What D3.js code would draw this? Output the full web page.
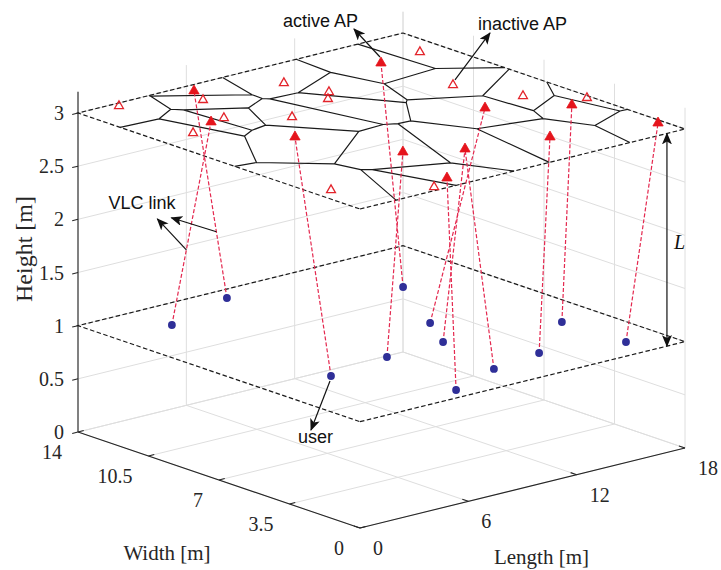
<!DOCTYPE html>
<html>
<head>
<meta charset="utf-8">
<script src="https://cdn.jsdelivr.net/npm/d3@7"></script>
<style>
  body { margin: 0; background: #fff; }
  svg { display: block; }
</style>
</head>
<body>
<svg id="chart" width="721" height="570"></svg>
<script>
// ---- axis ticks ----
const lengthTicks = [0, 6, 12, 18];
const widthTicks = [0, 3.5, 7, 10.5, 14];
const heightTicks = [0, 0.5, 1, 1.5, 2, 2.5, 3];
const heightMax = 3.2;

// ---- planes ----
const apHeight = 3;    // ceiling with access points
const userHeight = 1;  // receiver plane

// ---- active access points (Length, Width) ----
const activeL = [5.81, 3.43, 4.71, 14.46, 6.76, 9.04, 5.72, 16.63, 13.55, 12.91, 17.70];
const activeW = [13.45, 10.47, 7.45, 11.92, 3.93, 2.89, 0.81, 4.39, 5.94, 2.14, 1.07];

// ---- inactive access points (Length, Width) ----
const inactiveL = [1.98, 5.25, 4.22, 1.81, 9.45, 10.05, 9.36, 6.50, 0.86, 16.75, 14.70, 15.91, 17.78, 4.46];
const inactiveW = [13.74, 12.50, 10.54, 9.91, 12.25, 10.55, 9.98, 9.20, 2.21, 12.04, 8.56, 6.17, 4.67, 0.32];

// ---- users (Length, Width) and index of the serving active AP ----
const userL = [3.08, 7.40, 3.38, 14.10, 6.97, 11.57, 10.19, 6.08, 9.28, 12.24, 15.90, 16.07];
const userW = [12.10, 13.24, 4.47, 10.50, 4.91, 6.89, 5.01, 0.68, 1.67, 2.08, 4.23, 1.20];
const userAP = [1, 0, 2, 3, 4, 8, 5, 6, 5, 9, 7, 10];

// ---- oblique 3-D projection built from linear scales ----
const origin = [360, 528];
const lenX = d3.scaleLinear().domain([0, 18]).range([0, 325]);
const lenY = d3.scaleLinear().domain([0, 18]).range([0, -80]);
const widX = d3.scaleLinear().domain([0, 14]).range([0, -282]);
const widY = d3.scaleLinear().domain([0, 14]).range([0, -96]);
const hgtY = d3.scaleLinear().domain([0, 3]).range([0, -319]);
function proj(L, W, z) {
  return [origin[0] + lenX(L) + widX(W), origin[1] + lenY(L) + widY(W) + hgtY(z)];
}
const seg = (a, b) => d3.line()([proj(...a), proj(...b)]);

const svg = d3.select("#chart");
const serif = "'Liberation Serif', 'Times New Roman', serif";
const sans = "'Liberation Sans', Arial, sans-serif";

// arrow heads
const defs = svg.append("defs");
defs.append("marker")
  .attr("id", "head").attr("viewBox", "0 0 12 10")
  .attr("refX", 11).attr("refY", 5)
  .attr("markerWidth", 12).attr("markerHeight", 10)
  .attr("markerUnits", "userSpaceOnUse")
  .attr("orient", "auto-start-reverse")
  .append("path").attr("d", "M0,0 L12,5 L0,10 L3,5 Z").attr("fill", "#111");

// ---- grid ----
const grid = svg.append("g").attr("stroke", "#dedede").attr("stroke-width", 1).attr("fill", "none");
widthTicks.forEach(w => grid.append("path").attr("d", seg([0, w, 0], [18, w, 0])));
lengthTicks.forEach(l => grid.append("path").attr("d", seg([l, 0, 0], [l, 14, 0])));
heightTicks.forEach(h => {
  grid.append("path").attr("d", seg([0, 14, h], [18, 14, h]));
  grid.append("path").attr("d", seg([18, 0, h], [18, 14, h]));
});
lengthTicks.forEach(l => grid.append("path").attr("d", seg([l, 14, 0], [l, 14, heightMax])));
widthTicks.forEach(w => grid.append("path").attr("d", seg([18, w, 0], [18, w, heightMax])));

// ---- axes ----
const axes = svg.append("g").attr("stroke", "#262626").attr("stroke-width", 1.1).attr("fill", "none");
axes.append("path").attr("d", seg([0, 14, 0], [0, 14, heightMax]));
axes.append("path").attr("d", seg([0, 0, 0], [0, 14, 0]));
axes.append("path").attr("d", seg([0, 0, 0], [18, 0, 0]));
heightTicks.forEach(h => axes.append("path").attr("d", seg([0, 14, h], [-0.32, 14, h])));
widthTicks.forEach(w => axes.append("path").attr("d", seg([0, w, 0], [0.32, w, 0])));
lengthTicks.forEach(l => axes.append("path").attr("d", seg([l, 0, 0], [l, 0.3, 0])));

const labels = svg.append("g").attr("font-family", serif).attr("fill", "#262626");
heightTicks.forEach(h => {
  const p = proj(0, 14, h);
  labels.append("text").attr("x", p[0] - 14).attr("y", p[1]).attr("dy", "0.35em")
    .attr("text-anchor", "end").attr("font-size", 20).text(h);
});
widthTicks.forEach(w => {
  const p = proj(0, w, 0);
  labels.append("text").attr("x", p[0] - 16).attr("y", p[1] + 20).attr("dy", "0.35em")
    .attr("text-anchor", "end").attr("font-size", 20).text(w);
});
lengthTicks.forEach(l => {
  const p = proj(l, 0, 0);
  labels.append("text").attr("x", p[0] + 13).attr("y", p[1] + 20).attr("dy", "0.35em")
    .attr("text-anchor", "start").attr("font-size", 20).text(l);
});
{
  const pw = proj(0, 7, 0), pl = proj(9, 0, 0);
  labels.append("text").attr("x", pw[0] - 52).attr("y", pw[1] + 73).attr("dy", "0.35em")
    .attr("text-anchor", "middle").attr("font-size", 21).text("Width [m]");
  labels.append("text").attr("x", pl[0] + 19).attr("y", pl[1] + 69).attr("dy", "0.35em")
    .attr("text-anchor", "middle").attr("font-size", 21).text("Length [m]");
  labels.append("text").attr("transform", "translate(24,249) rotate(-90)").attr("dy", "0.35em")
    .attr("text-anchor", "middle").attr("font-size", 24).text("Height [m]");
}

// ---- dashed planes ----
const corners = z => [[0, 0, z], [18, 0, z], [18, 14, z], [0, 14, z]].map(c => proj(...c));
const planes = svg.append("g").attr("fill", "none").attr("stroke", "#1a1a1a")
  .attr("stroke-width", 1.2).attr("stroke-dasharray", "4.5,2.5");
[userHeight, apHeight].forEach(z => planes.append("path").attr("d", d3.line()(corners(z)) + "Z"));

// ---- Voronoi cells of all access points on the ceiling ----
const allAP = activeL.map((l, i) => [l, activeW[i]])
  .concat(inactiveL.map((l, i) => [l, inactiveW[i]]));
const voronoi = d3.Delaunay.from(allAP).voronoi([0, 0, 18, 14]);
const vpath = d3.path();
voronoi.render({
  moveTo(x, y) { const q = proj(x, y, apHeight); vpath.moveTo(q[0], q[1]); },
  lineTo(x, y) { const q = proj(x, y, apHeight); vpath.lineTo(q[0], q[1]); },
  closePath() { vpath.closePath(); }
});
svg.append("path").attr("d", vpath.toString()).attr("fill", "none")
  .attr("stroke", "#1a1a1a").attr("stroke-width", 1.2);

// ---- VLC links ----
svg.append("g").attr("fill", "none").attr("stroke", "#e4284f").attr("stroke-width", 1.2)
  .attr("stroke-dasharray", "4,2")
  .selectAll("path").data(userL).join("path")
  .attr("d", (l, i) => seg([l, userW[i], userHeight], [activeL[userAP[i]], activeW[userAP[i]], apHeight]));

// ---- access points ----
const tri = d3.symbol(d3.symbolTriangle);
svg.append("g").selectAll("path").data(inactiveL).join("path")
  .attr("transform", (l, i) => `translate(${proj(l, inactiveW[i], apHeight)})`)
  .attr("d", tri.size(34)).attr("fill", "none").attr("stroke", "#e3242b").attr("stroke-width", 1.3);
svg.append("g").selectAll("path").data(activeL).join("path")
  .attr("transform", (l, i) => `translate(${proj(l, activeW[i], apHeight)})`)
  .attr("d", tri.size(46)).attr("fill", "#e5141c").attr("stroke", "#e5141c").attr("stroke-width", 0.8);

// ---- users ----
svg.append("g").selectAll("circle").data(userL).join("circle")
  .attr("cx", (l, i) => proj(l, userW[i], userHeight)[0])
  .attr("cy", (l, i) => proj(l, userW[i], userHeight)[1])
  .attr("r", 3.9).attr("fill", "#2f2f98");

// ---- annotations ----
const notes = svg.append("g");
function arrow(tail, head) {
  notes.append("line").attr("x1", tail[0]).attr("y1", tail[1]).attr("x2", head[0]).attr("y2", head[1])
    .attr("stroke", "#111").attr("stroke-width", 1.2).attr("marker-end", "url(#head)");
}
function note(x, y, txt, anchor) {
  notes.append("text").attr("x", x).attr("y", y).attr("text-anchor", anchor || "start")
    .attr("font-family", sans).attr("font-size", 18).attr("fill", "#111").text(txt);
}
{
  // active AP
  const a = proj(activeL[3], activeW[3], apHeight);
  const head = [a[0] - 27, a[1] - 34];
  arrow([a[0] - 1, a[1] - 6], head);
  note(head[0] + 4, head[1] - 2, "active AP", "end");

  // inactive AP
  const b = proj(inactiveL[10], inactiveW[10], apHeight);
  const head2 = [b[0] + 37, b[1] - 52];
  arrow([b[0] + 2, b[1] - 5], head2);
  note(head2[0] - 12, head2[1] - 3, "inactive AP");

  // user
  const u = proj(userL[2], userW[2], userHeight);
  const head3 = [u[0] - 20, u[1] + 54];
  arrow([u[0] - 1, u[1] + 5], head3);
  note(head3[0] - 13, head3[1] + 13, "user");

  // VLC link: arrows leaving two of the links
  const onLink = (i, t) => {
    const p0 = proj(userL[i], userW[i], userHeight);
    const p1 = proj(activeL[userAP[i]], activeW[userAP[i]], apHeight);
    return [p0[0] + (p1[0] - p0[0]) * t, p0[1] + (p1[1] - p0[1]) * t];
  };
  const t1 = onLink(1, 0.32), t2 = onLink(0, 0.37);
  const h1 = [t1[0] - 45, t1[1] - 14], h2 = [t2[0] - 29, t2[1] - 31];
  arrow(t1, h1);
  arrow(t2, h2);
  note(h1[0] - 63, h1[1] - 9, "VLC link");

  // separation between the planes
  const top = proj(17, 0, apHeight), bot = proj(17, 0, userHeight), mid = proj(17, 0, 2);
  notes.append("line").attr("x1", bot[0]).attr("y1", bot[1]).attr("x2", top[0]).attr("y2", top[1])
    .attr("stroke", "#111").attr("stroke-width", 1.2)
    .attr("marker-start", "url(#head)").attr("marker-end", "url(#head)");
  notes.append("text").attr("x", mid[0] + 7).attr("y", mid[1] + 9)
    .attr("font-family", serif).attr("font-style", "italic").attr("font-size", 20)
    .attr("fill", "#111").text("L");
}
</script>
</body>
</html>
